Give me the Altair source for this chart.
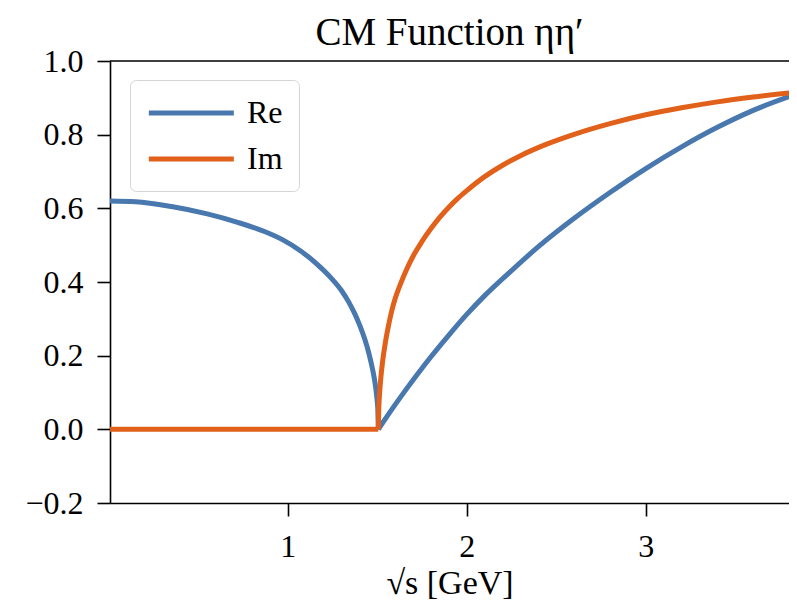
import altair as alt
import pandas as pd

# Real part: below and above the eta-eta' threshold
re_lo_s = [0.0, 0.15, 0.35, 0.55, 0.72, 0.87, 0.97, 1.07, 1.16, 1.24, 1.30, 1.34,
           1.37, 1.40, 1.43, 1.455, 1.475, 1.49, 1.498, 1.503, 1.506]
re_lo_v = [0.620, 0.618, 0.605, 0.585, 0.562, 0.537, 0.515, 0.485, 0.450, 0.412,
           0.377, 0.346, 0.318, 0.285, 0.245, 0.203, 0.160, 0.118, 0.085, 0.055, 0.0]
re_hi_s = [1.506, 1.55, 1.60, 1.65, 1.70, 1.75, 1.80, 1.90, 2.00, 2.10, 2.25, 2.40,
           2.60, 2.80, 3.00, 3.20, 3.40, 3.60, 3.84]
re_hi_v = [0.0, 0.032, 0.067, 0.101, 0.134, 0.166, 0.197, 0.256, 0.312, 0.363, 0.431,
           0.496, 0.573, 0.643, 0.708, 0.767, 0.820, 0.866, 0.910]

# Imaginary part: zero below threshold, rising above it
im_lo_s = [0.0, 0.5, 1.0, 1.506]
im_lo_v = [0.0, 0.0, 0.0, 0.0]
im_hi_s = [1.506, 1.508, 1.512, 1.52, 1.53, 1.545, 1.56, 1.58, 1.60, 1.63, 1.66,
           1.70, 1.75, 1.80, 1.85, 1.90, 1.95, 2.00, 2.10, 2.20, 2.30, 2.45, 2.60,
           2.80, 3.00, 3.20, 3.40, 3.60, 3.84]
im_hi_v = [0.0, 0.05, 0.09, 0.14, 0.185, 0.235, 0.275, 0.32, 0.355, 0.395, 0.43,
           0.47, 0.51, 0.545, 0.576, 0.603, 0.627, 0.648, 0.686, 0.717, 0.743, 0.775,
           0.801, 0.830, 0.854, 0.873, 0.889, 0.902, 0.915]

series = ["Re", "Im"]
colors = ["#4878AE", "#E1601A"]
y_ticks = [-0.2, 0.0, 0.2, 0.4, 0.6, 0.8, 1.0]
x_ticks = [1, 2, 3]

def seg(s, v, part, name):
    return pd.DataFrame({"s": s, "v": v, "part": part, "seg": name})

df = pd.concat([
    seg(re_lo_s, re_lo_v, "Re", "re_lo"),
    seg(re_hi_s, re_hi_v, "Re", "re_hi"),
    seg(im_lo_s, im_lo_v, "Im", "im_lo"),
    seg(im_hi_s, im_hi_v, "Im", "im_hi"),
], ignore_index=True)

FONT = "Liberation Serif"
W, H = 679, 442

x_enc = alt.X("s:Q",
              scale=alt.Scale(domain=[0.007, 3.80], nice=False, zero=False),
              axis=alt.Axis(values=x_ticks, format="d", title="√s  [GeV]",
                            grid=False, tickSize=13, labelPadding=15,
                            titlePadding=4, titleFontSize=34))
y_enc = alt.Y("v:Q",
              scale=alt.Scale(domain=[-0.2, 1.0], nice=False, zero=False),
              axis=alt.Axis(values=y_ticks, format=".1f", title=None,
                            grid=False, tickSize=13, labelPadding=14))
color_enc = alt.Color("part:N",
                      scale=alt.Scale(domain=series, range=colors),
                      legend=alt.Legend(title=None, orient="none",
                                        legendX=20, legendY=19,
                                        symbolType="M-1,0H5", symbolSize=803,
                                        symbolStrokeWidth=5,
                                        labelFontSize=32, labelFont=FONT,
                                        labelOffset=67, rowPadding=13,
                                        padding=16, cornerRadius=6,
                                        strokeColor="#d4d4d4", fillColor="white",
                                        labelColor="black"))

base = alt.Chart(df)
re_line = base.transform_filter(alt.datum.part == "Re").mark_line(
    strokeWidth=5, clip=True, interpolate="monotone").encode(
    x=x_enc, y=y_enc, color=color_enc, detail="seg:N")
im_line = base.transform_filter(alt.datum.part == "Im").mark_line(
    strokeWidth=5, clip=True, interpolate="monotone").encode(
    x=x_enc, y=y_enc, color=color_enc, detail="seg:N")
top_spine = alt.Chart(pd.DataFrame({"k": [0]})).mark_rule(
    color="black", strokeWidth=1.6).encode(
    y=alt.value(0), x=alt.value(0), x2=alt.value(W))

chart = alt.layer(re_line, im_line, top_spine).properties(
    width=W, height=H,
    title=alt.TitleParams("CM Function ηη′", fontSize=39, font=FONT,
                          fontWeight="normal", anchor="middle",
                          offset=-8, color="black"),
    autosize=alt.AutoSizeParams(type="none"),
    padding={"left": 102, "top": 53, "right": 0, "bottom": 98},
).configure_view(stroke=None).configure_axis(
    labelFont=FONT, labelFontSize=32, labelColor="black",
    titleFont=FONT, titleFontSize=32, titleFontWeight="normal", titleColor="black",
    domainColor="black", domainWidth=1.6, tickColor="black", tickWidth=1.6,
)

chart.save("out.html", embed_options={"renderer": "svg", "actions": False})
